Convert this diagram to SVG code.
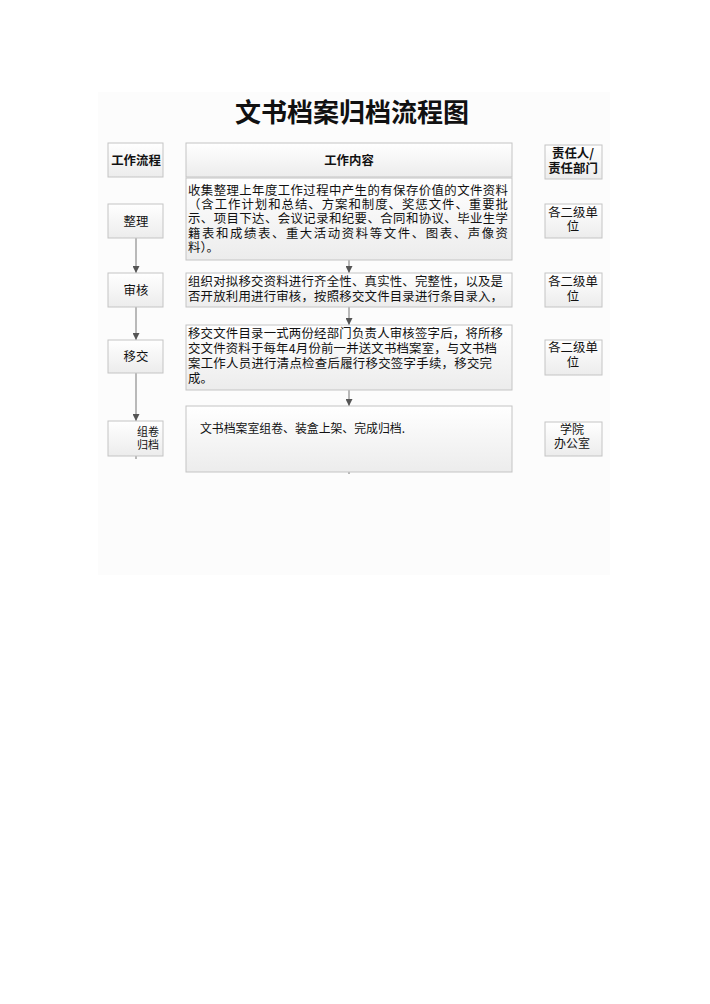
<svg xmlns="http://www.w3.org/2000/svg" width="710" height="1004" viewBox="0 0 710 1004">
<defs>
<linearGradient id="g" x1="0" y1="0" x2="0" y2="1">
<stop offset="0" stop-color="#ffffff"/>
<stop offset="1" stop-color="#ececec"/>
</linearGradient>
<marker id="ah" viewBox="0 0 10 10" refX="10" refY="5" markerWidth="7" markerHeight="7" markerUnits="userSpaceOnUse" orient="auto">
<path d="M0,0 L10,5 L0,10 z" fill="#555"/>
</marker>
</defs>
<style>
.box{fill:url(#g);stroke:#c4c4c4;stroke-width:1}
.t{font-family:"Noto Sans CJK SC","Noto Sans CJK JP",sans-serif;font-size:12.4px;fill:#111}
.c{text-anchor:middle}
.b{font-weight:bold}
.ln{stroke:#777;stroke-width:1;fill:none}
</style>
<rect x="0" y="0" width="710" height="1004" fill="#ffffff"/>
<rect x="98" y="92" width="512" height="483" fill="#fcfcfc"/>
<text x="352" y="122" text-anchor="middle" font-family="'Noto Sans CJK SC',sans-serif" font-size="26" font-weight="bold" fill="#111">文书档案归档流程图</text>

<g id="connectors">
<line class="ln" x1="136" y1="238" x2="136" y2="273" marker-end="url(#ah)"/>
<line class="ln" x1="136" y1="307" x2="136" y2="340" marker-end="url(#ah)"/>
<line class="ln" x1="136" y1="373" x2="136" y2="421" marker-end="url(#ah)"/>
<line class="ln" x1="136" y1="456" x2="136" y2="459"/>
<line class="ln" x1="349" y1="260" x2="349" y2="273" marker-end="url(#ah)"/>
<line class="ln" x1="349" y1="307" x2="349" y2="325" marker-end="url(#ah)"/>
<line class="ln" x1="349" y1="390" x2="349" y2="406" marker-end="url(#ah)"/>
<line class="ln" x1="349" y1="472" x2="349" y2="474"/>
</g>

<g id="h-flow">
<rect class="box" x="108" y="143" width="55" height="34"/>
<text class="t c b" x="136" y="164.5">工作流程</text>
</g>
<g id="h-content">
<rect class="box" x="186" y="143" width="326" height="34"/>
<text class="t c b" x="349" y="164.5">工作内容</text>
</g>
<g id="h-resp">
<rect class="box" x="545" y="145" width="57" height="34"/>
<text class="t c b"><tspan x="573" y="158">责任人/</tspan><tspan x="573" y="173">责任部门</tspan></text>
</g>

<g id="s1">
<rect class="box" x="108" y="204" width="55" height="34"/>
<text class="t c" x="136" y="225.5">整理</text>
</g>
<g id="c1">
<rect class="box" x="186" y="178" width="326" height="82"/>
<text class="t"><tspan x="188" y="194.5" textLength="320" lengthAdjust="spacing">收集整理上年度工作过程中产生的有保存价值的文件资料</tspan><tspan x="188" y="209" textLength="320" lengthAdjust="spacing">（含工作计划和总结、方案和制度、奖惩文件、重要批</tspan><tspan x="188" y="223" textLength="320" lengthAdjust="spacing">示、项目下达、会议记录和纪要、合同和协议、毕业生学</tspan><tspan x="188" y="237.5" textLength="320" lengthAdjust="spacing">籍表和成绩表、重大活动资料等文件、图表、声像资</tspan><tspan x="188" y="251.5">料）。</tspan></text>
</g>
<g id="r1">
<rect class="box" x="545" y="204" width="57" height="34"/>
<text class="t c"><tspan x="573" y="216.5">各二级单</tspan><tspan x="573" y="231">位</tspan></text>
</g>

<g id="s2">
<rect class="box" x="108" y="273" width="55" height="34"/>
<text class="t c" x="136" y="294.5">审核</text>
</g>
<g id="c2">
<rect class="box" x="186" y="273" width="326" height="34"/>
<text class="t"><tspan x="188" y="285.5" textLength="315" lengthAdjust="spacing">组织对拟移交资料进行齐全性、真实性、完整性，以及是</tspan><tspan x="188" y="300.5" textLength="315" lengthAdjust="spacing">否开放利用进行审核，按照移交文件目录进行条目录入，</tspan></text>
</g>
<g id="r2">
<rect class="box" x="545" y="273" width="57" height="34"/>
<text class="t c"><tspan x="573" y="285.5">各二级单</tspan><tspan x="573" y="300.5">位</tspan></text>
</g>

<g id="s3">
<rect class="box" x="108" y="340" width="55" height="33"/>
<text class="t c" x="136" y="361">移交</text>
</g>
<g id="c3">
<rect class="box" x="186" y="325" width="326" height="65"/>
<text class="t"><tspan x="188" y="337.5" textLength="315" lengthAdjust="spacing">移交文件目录一式两份经部门负责人审核签字后，将所移</tspan><tspan x="188" y="352.5" textLength="309" lengthAdjust="spacing">交文件资料于每年4月份前一并送文书档案室，与文书档</tspan><tspan x="188" y="368" textLength="304" lengthAdjust="spacing">案工作人员进行清点检查后履行移交签字手续，移交完</tspan><tspan x="188" y="382.5">成。</tspan></text>
</g>
<g id="r3">
<rect class="box" x="545" y="340" width="57" height="35"/>
<text class="t c"><tspan x="573" y="351.5">各二级单</tspan><tspan x="573" y="367">位</tspan></text>
</g>

<g id="s4">
<rect class="box" x="108" y="421" width="55" height="35"/>
<text class="t c" font-size="11" style="font-size:11px"><tspan x="148" y="436">组卷</tspan><tspan x="148" y="448.5">归档</tspan></text>
</g>
<g id="c4">
<rect class="box" x="186" y="406" width="326" height="66"/>
<text class="t" x="200" y="432.5" style="font-size:12px" textLength="205" lengthAdjust="spacingAndGlyphs">文书档案室组卷、装盒上架、完成归档.</text>
</g>
<g id="r4">
<rect class="box" x="545" y="422" width="57" height="34"/>
<text class="t c" style="font-size:12px"><tspan x="572" y="433.5">学院</tspan><tspan x="572" y="447.5">办公室</tspan></text>
</g>
</svg>
